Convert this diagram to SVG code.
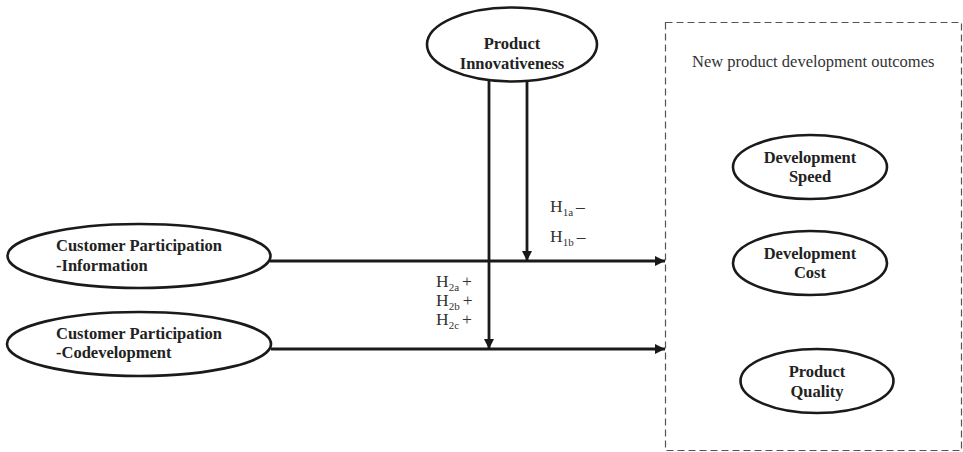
<svg xmlns="http://www.w3.org/2000/svg" width="963" height="452" viewBox="0 0 963 452">
<defs>
<style>
.node ellipse{fill:#fff;stroke:#1a1a1a;stroke-width:2.6}
.lbl{font-family:"Liberation Serif","Times New Roman",serif;font-weight:bold;font-size:16.5px;fill:#222}
.reg{font-family:"Liberation Serif","Times New Roman",serif;font-size:17.5px;fill:#333}
.title{font-family:"Liberation Serif","Times New Roman",serif;font-size:16.5px;fill:#333}
.sub{font-size:11px}
.conn line{stroke:#1a1a1a;stroke-width:2.8}
</style>
<marker id="arr" viewBox="0 0 10 10" refX="10" refY="5" markerWidth="3.6" markerHeight="3.6" markerUnits="strokeWidth" orient="auto">
<path d="M0,0 L10,5 L0,10 z" fill="#1a1a1a"/>
</marker>
</defs>
<rect width="963" height="452" fill="#fff"/>
<g id="outcomes-box">
<rect x="665.5" y="22.5" width="296" height="428" fill="none" stroke="#555" stroke-width="1.2" stroke-dasharray="7,4"/>
<text class="title" x="692" y="67">New product development outcomes</text>
</g>
<g class="conn" id="connectors">
<line x1="270" y1="261" x2="665" y2="261" marker-end="url(#arr)"/>
<line x1="271" y1="349" x2="665" y2="349" marker-end="url(#arr)"/>
<line x1="489" y1="81" x2="489" y2="349" marker-end="url(#arr)"/>
<line x1="527" y1="81" x2="527" y2="261" marker-end="url(#arr)"/>
</g>
<g id="labels">
<text class="reg" x="550" y="212">H<tspan class="sub" dy="4">1a</tspan><tspan dy="-4" dx="3">–</tspan></text>
<text class="reg" x="550" y="242">H<tspan class="sub" dy="4">1b</tspan><tspan dy="-4" dx="3">–</tspan></text>
<text class="reg" x="436" y="287">H<tspan class="sub" dy="4">2a</tspan><tspan dy="-4" dx="3">+</tspan></text>
<text class="reg" x="436" y="306">H<tspan class="sub" dy="4">2b</tspan><tspan dy="-4" dx="3">+</tspan></text>
<text class="reg" x="436" y="325">H<tspan class="sub" dy="4">2c</tspan><tspan dy="-4" dx="3">+</tspan></text>
</g>
<g id="product-innovativeness" class="node">
<ellipse cx="512" cy="44.5" rx="85" ry="37"/>
<text class="lbl" x="512" y="49" text-anchor="middle">Product</text>
<text class="lbl" x="512" y="69" text-anchor="middle">Innovativeness</text>
</g>
<g id="cp-information" class="node">
<ellipse cx="139" cy="256" rx="131.5" ry="32"/>
<text class="lbl" x="56" y="251">Customer Participation</text>
<text class="lbl" x="56" y="271">-Information</text>
</g>
<g id="cp-codevelopment" class="node">
<ellipse cx="139" cy="344" rx="132" ry="32"/>
<text class="lbl" x="56" y="339">Customer Participation</text>
<text class="lbl" x="56" y="358">-Codevelopment</text>
</g>
<g id="development-speed" class="node">
<ellipse cx="810" cy="167" rx="77" ry="32"/>
<text class="lbl" x="810" y="163" text-anchor="middle">Development</text>
<text class="lbl" x="810" y="182" text-anchor="middle">Speed</text>
</g>
<g id="development-cost" class="node">
<ellipse cx="810" cy="263" rx="77" ry="32"/>
<text class="lbl" x="810" y="259" text-anchor="middle">Development</text>
<text class="lbl" x="810" y="278" text-anchor="middle">Cost</text>
</g>
<g id="product-quality" class="node">
<ellipse cx="817" cy="381" rx="76.5" ry="32"/>
<text class="lbl" x="817" y="377" text-anchor="middle">Product</text>
<text class="lbl" x="817" y="397" text-anchor="middle">Quality</text>
</g>
</svg>
